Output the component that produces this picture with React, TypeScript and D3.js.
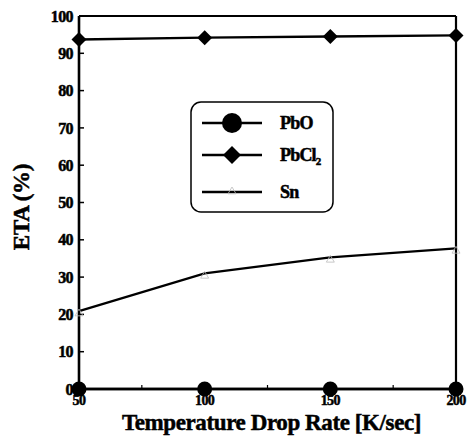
import React from "react";
import * as d3 from "d3";

// Temperature drop rate (K/sec)
const rates = [50, 100, 150, 200];
// ETA (%) for each compound
const pbo = [0, 0, 0, 0];
const pbcl2 = [93.7, 94.2, 94.5, 94.8];
const sn = [20.9, 31.0, 35.3, 37.7];

const yTicks = [0, 10, 20, 30, 40, 50, 60, 70, 80, 90, 100];
const xTicks = [50, 100, 150, 200];
const xMinorTicks = [75, 125, 175];

const legendItems = ["PbO", "PbCl", "Sn"];

const W = 468;
const H = 438;
const FONT = "'Liberation Serif', 'Times New Roman', serif";

export default function App() {
  const x = d3.scaleLinear().domain([50, 200]).range([79, 456]);
  const y = d3.scaleLinear().domain([0, 100]).range([389, 16]);

  const line = d3
    .line<number>()
    .x((_, i) => x(rates[i]))
    .y((v) => y(v));

  const diamond = (cx: number, cy: number, r: number) =>
    `M${cx},${cy - r}L${cx + r},${cy}L${cx},${cy + r}L${cx - r},${cy}Z`;
  const triangle = (cx: number, cy: number, r: number) =>
    `M${cx},${cy - r}L${cx + r},${cy + r * 0.7}L${cx - r},${cy + r * 0.7}Z`;

  const legX = 191;
  const legY = 102;
  const legW = 142;
  const legH = 110;
  const rowY = [123, 155, 192];

  // heavier text weight
  const heavy = { stroke: "#000", strokeWidth: 0.5 };

  return (
    <svg
      width={W}
      height={H}
      style={{ position: "absolute", left: 0, top: 0, background: "#fff" }}
      fontFamily={FONT}
    >
      <rect x={0} y={0} width={W} height={H} fill="#fff" />

      {/* frame */}
      <line x1={x(50)} x2={x(200)} y1={y(100)} y2={y(100)} stroke="#000" strokeWidth={1.8} />
      <line x1={x(200)} x2={x(200)} y1={y(100)} y2={y(0)} stroke="#000" strokeWidth={2.2} />
      <line x1={x(50)} x2={x(50)} y1={y(100)} y2={y(0)} stroke="#000" strokeWidth={2.6} />
      <line x1={x(50)} x2={x(200)} y1={y(0)} y2={y(0)} stroke="#000" strokeWidth={2.6} />

      {/* y ticks */}
      {yTicks.map((t) => (
        <g key={`yt${t}`}>
          <line x1={x(50)} x2={x(50) + 5} y1={y(t)} y2={y(t)} stroke="#000" strokeWidth={1.5} />
          <text
            x={73}
            y={y(t)}
            dy="0.35em"
            textAnchor="end"
            fontSize={16}
            fontWeight="bold"
            letterSpacing={-0.6}
            {...heavy}
          >
            {t}
          </text>
        </g>
      ))}

      {/* x ticks */}
      {xMinorTicks.map((t) => (
        <line key={`xm${t}`} x1={x(t)} x2={x(t)} y1={y(0)} y2={y(0) - 4} stroke="#000" strokeWidth={1.2} />
      ))}
      {xTicks.map((t) => (
        <text
          key={`xt${t}`}
          x={x(t)}
          y={405}
          textAnchor="middle"
          fontSize={14}
          fontWeight="bold"
          letterSpacing={-0.6}
          {...heavy}
        >
          {t}
        </text>
      ))}

      {/* axis titles */}
      <text
        x={x(125) + 4}
        y={430}
        textAnchor="middle"
        fontSize={23}
        fontWeight="bold"
        letterSpacing={-0.4}
        {...heavy}
      >
        Temperature Drop Rate [K/sec]
      </text>
      <text
        transform={`translate(29, 207) rotate(-90)`}
        textAnchor="middle"
        fontSize={23}
        fontWeight="bold"
        letterSpacing={-0.3}
        {...heavy}
      >
        ETA (%)
      </text>

      {/* Sn series */}
      <path d={line(sn) ?? ""} fill="none" stroke="#000" strokeWidth={2.3} />
      {sn.map((v, i) => (
        <path
          key={`sn${i}`}
          d={triangle(x(rates[i]), y(v) + 2, 4)}
          fill="none"
          stroke="#bbb"
          strokeWidth={0.8}
        />
      ))}

      {/* PbCl2 series */}
      <path d={line(pbcl2) ?? ""} fill="none" stroke="#000" strokeWidth={2.3} />
      {pbcl2.map((v, i) => (
        <path key={`cl${i}`} d={diamond(x(rates[i]), y(v), 7.5)} fill="#000" />
      ))}

      {/* PbO series */}
      <path d={line(pbo) ?? ""} fill="none" stroke="#000" strokeWidth={2.3} />
      {pbo.map((v, i) => (
        <circle key={`po${i}`} cx={x(rates[i])} cy={y(v)} r={7.5} fill="#000" />
      ))}

      {/* legend */}
      <rect
        x={legX}
        y={legY}
        width={legW}
        height={legH}
        rx={10}
        ry={10}
        fill="#fff"
        stroke="#000"
        strokeWidth={1.5}
      />
      {legendItems.map((name, i) => (
        <g key={name}>
          <line x1={202} x2={262} y1={rowY[i]} y2={rowY[i]} stroke="#000" strokeWidth={2.3} />
          {i === 0 && <circle cx={232} cy={rowY[i]} r={10} fill="#000" />}
          {i === 1 && <path d={diamond(232, rowY[i], 9)} fill="#000" />}
          {i === 2 && (
            <path d={triangle(232, rowY[i] - 1, 4)} fill="none" stroke="#bbb" strokeWidth={0.8} />
          )}
          <text
            x={280}
            y={rowY[i]}
            dy="0.35em"
            fontSize={18}
            fontWeight="bold"
            letterSpacing={-0.8}
            {...heavy}
          >
            {name}
            {i === 1 && (
              <tspan fontSize={11} dy="4">
                2
              </tspan>
            )}
          </text>
        </g>
      ))}
    </svg>
  );
}
